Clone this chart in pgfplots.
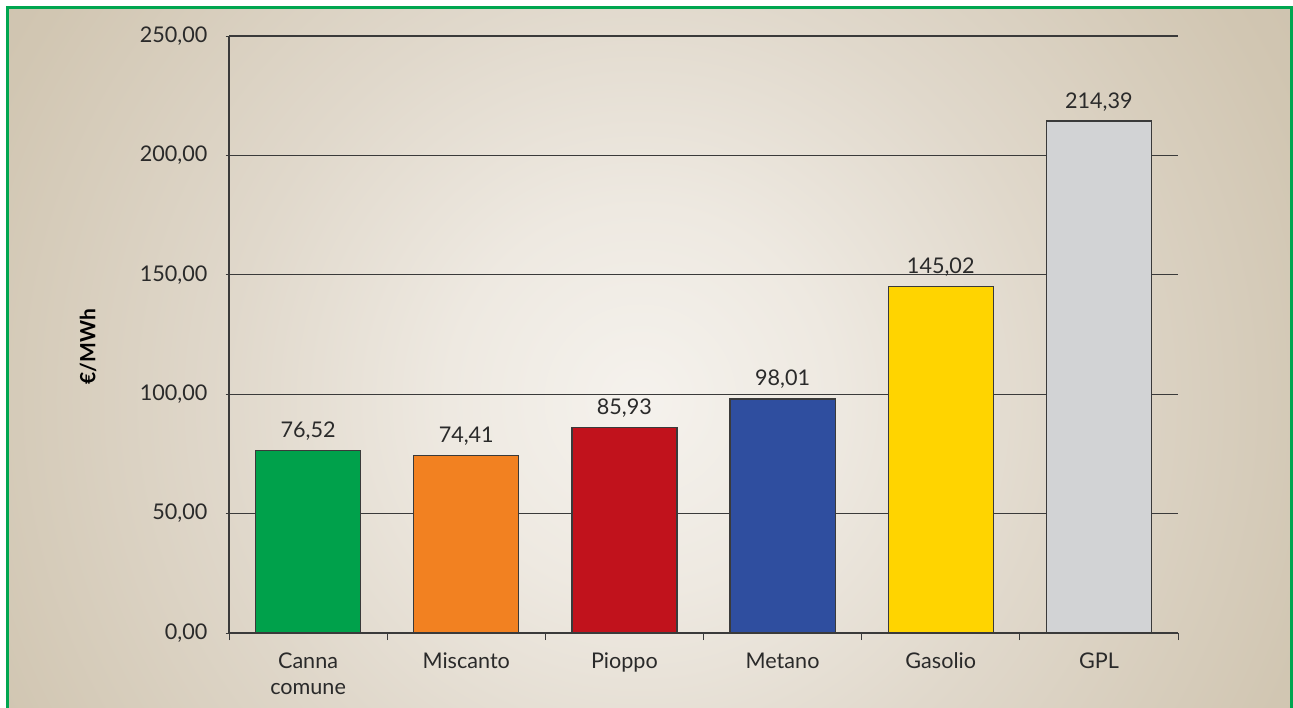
\documentclass[border=0pt]{standalone}
\usepackage{pgfplots}
\pgfplotsset{compat=1.18}
\usepackage{fontspec}
\setmainfont{Lato}
\definecolor{bgA}{HTML}{F5F2ED}
\definecolor{bgB}{HTML}{EEE9E1}
\definecolor{bgC}{HTML}{E0D8CB}
\definecolor{bgD}{HTML}{D1C6B2}
\definecolor{bgE}{HTML}{C9BDA8}
\definecolor{bgF}{HTML}{C6B9A3}
\definecolor{frame}{HTML}{00A650}
\definecolor{gridc}{HTML}{3A3A3A}
\definecolor{cgreen}{HTML}{00A14B}
\definecolor{corange}{HTML}{F28121}
\definecolor{cred}{HTML}{C1121C}
\definecolor{cblue}{HTML}{2F4E9F}
\definecolor{cyellow}{HTML}{FFD400}
\definecolor{cgrey}{HTML}{D2D3D5}
\definecolor{txt}{HTML}{2A2A2A}
\pgfdeclareradialshading{bgshade}{\pgfpoint{0bp}{0bp}}{color(0bp)=(bgA); color(6bp)=(bgB); color(13bp)=(bgC); color(22bp)=(bgD); color(29bp)=(bgE); color(50bp)=(bgF)}
\begin{document}
\begin{tikzpicture}
\path[use as bounding box] (0,0) rectangle (646.5pt,-353.5pt);
\begin{scope}
\clip (3.5pt,-3.5pt) rectangle (646pt,-353.5pt);
\fill[bgE] (3.5pt,-3.5pt) rectangle (646pt,-353.5pt);
\shade[shading=bgshade] (320pt,-200pt) circle (400pt);
\end{scope}
\draw[frame, line width=1.5pt] (3.5pt,-354pt) -- (3.5pt,-3.5pt) -- (645.75pt,-3.5pt) -- (645.75pt,-354pt);
\begin{axis}[
  at={(114.5pt,-316.5pt)}, anchor=south west,
  scale only axis, width=474.5pt, height=298.5pt,
  ymin=0, ymax=250, xmin=-0.5, xmax=5.5,
  ytick={0,50,...,250},
  xtick={0,...,5},
  xticklabels={Canna\\comune, Miscanto, Pioppo, Metano, Gasolio, GPL},
  minor xtick={-0.5,0.5,...,5.5},
  major x tick style={draw=none},
  tick align=outside,
  major tick length=3.5pt, minor tick length=3.5pt,
  tick style={gridc, line width=0.5pt},
  axis x line=bottom, axis y line=left,
  axis line style={-, gridc, line width=0.6pt},
  ymajorgrids, major grid style={gridc, line width=0.6pt},
  /pgf/number format/.cd, fixed, fixed zerofill, precision=2, use comma, assume math mode=true,
  /pgfplots/.cd,
  ticklabel style={font=\fontsize{10.8}{13}\selectfont, text=txt},
  xticklabel style={align=center, yshift=-3pt},
  yticklabel style={xshift=-5.5pt},
  ylabel={\textbf{€/MWh}},
  ylabel style={at={(axis description cs:-0.1486,0.48)}, anchor=center, font=\fontsize{10.5}{12}\selectfont, text=black},
  ybar, bar width=0.664,
  nodes near coords,
  every node near coord/.append style={anchor=base, yshift=6.5pt, font=\fontsize{10.8}{13}\selectfont, text=txt},
  clip=false,
]
\addplot[bar shift=0pt, fill=cgreen, draw=gridc, line width=0.6pt] coordinates {(0,76.52)};
\addplot[bar shift=0pt, fill=corange, draw=gridc, line width=0.6pt] coordinates {(1,74.41)};
\addplot[bar shift=0pt, fill=cred, draw=gridc, line width=0.6pt] coordinates {(2,85.93)};
\addplot[bar shift=0pt, fill=cblue, draw=gridc, line width=0.6pt] coordinates {(3,98.01)};
\addplot[bar shift=0pt, fill=cyellow, draw=gridc, line width=0.6pt] coordinates {(4,145.02)};
\addplot[bar shift=0pt, fill=cgrey, draw=gridc, line width=0.6pt] coordinates {(5,214.39)};
\end{axis}
\end{tikzpicture}
\end{document}
